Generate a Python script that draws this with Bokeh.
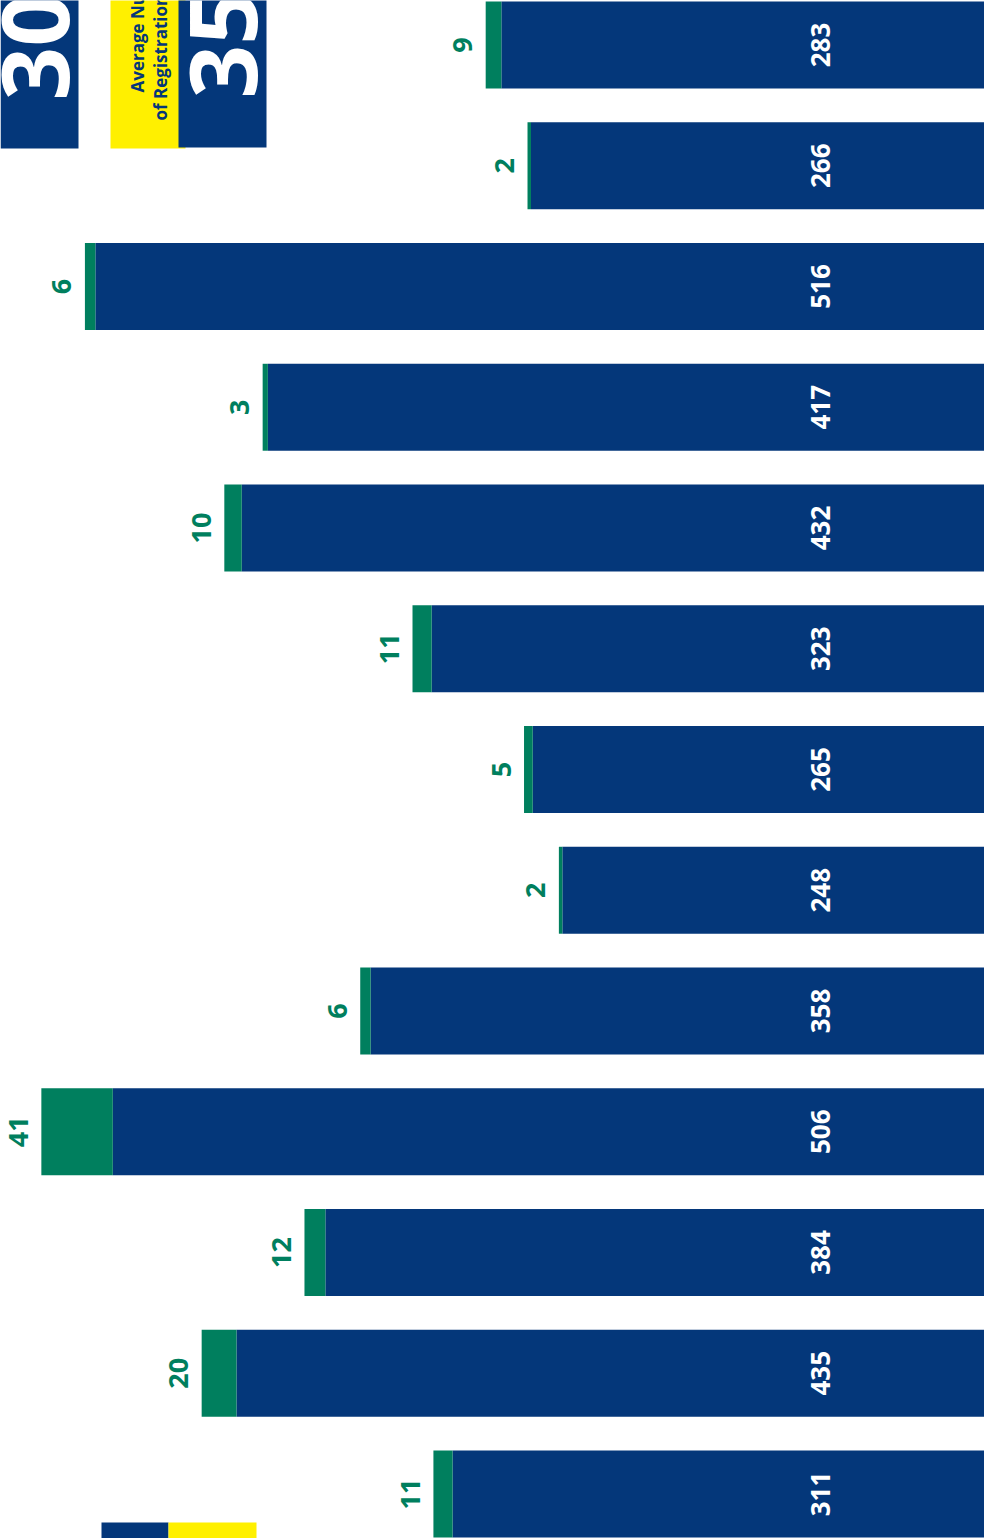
import math
from bokeh.plotting import figure
from bokeh.models import ColumnDataSource, Range1d
from bokeh.core.properties import value
from bokeh.embed import file_html
from bokeh.resources import INLINE

# ---- data (top to bottom) ----
rows = list(range(13))
registrations = [283, 266, 516, 417, 432, 323, 265, 248, 358, 506, 384, 435, 311]
extra = [9, 2, 6, 3, 10, 11, 5, 2, 6, 41, 12, 20, 11]
summary_numbers = ["30", "35"]
summary_title = ["Average Number", "of Registrations"]

NAVY = "#04377A"
GREEN = "#007F5E"
YELLOW = "#FFF000"
FONT = "Open Sans"

# geometry helpers (reference-pixel -> data), used for layout only
PX_PER_UNIT = 1.7425
ZERO_PX = 994.0
ROW0_PX = 44.5
ROW_STEP = 120.75


def dx(px):
    return (ZERO_PX - px) / PX_PER_UNIT


def dy(py):
    return (py - ROW0_PX) / ROW_STEP


W, H = 984, 1538
p = figure(width=W, height=H, output_backend="svg", toolbar_location=None,
           x_range=Range1d(dx(0), dx(W)), y_range=Range1d(dy(H), dy(0)),
           min_border=0)
p.axis.visible = False
p.grid.visible = False
p.outline_line_color = None
p.background_fill_color = "white"
p.border_fill_color = "white"

totals = [a + b for a, b in zip(registrations, extra)]
src = ColumnDataSource(dict(
    y=rows, reg=registrations, extra=extra, total=totals,
    reg_lbl=[str(v) for v in registrations],
    extra_lbl=[str(v) for v in extra],
    zero=[0] * len(rows),
    lbl_x=[100] * len(rows),
    extra_x=[t + 13.2 for t in totals],
))

p.hbar(y="y", left="zero", right="reg", height=0.72, source=src,
       fill_color=NAVY, line_color=None)
p.hbar(y="y", left="reg", right="total", height=0.72, source=src,
       fill_color=GREEN, line_color=None)

p.text(x="lbl_x", y="y", text="reg_lbl", source=src, angle=math.pi / 2,
       text_align="center", text_baseline="middle", text_color="white",
       text_font=value(FONT), text_font_style="bold", text_font_size="26px")
p.text(x="extra_x", y="y", text="extra_lbl", source=src, angle=math.pi / 2,
       text_align="center", text_baseline="middle", text_color=GREEN,
       text_font=value(FONT), text_font_style="bold", text_font_size="27px")

# ---- summary boxes (top-left, cropped) ----
p.quad(left=[dx(0), dx(110), dx(178)], right=[dx(78), dx(185), dx(266)],
       top=[dy(-20), dy(-20), dy(-20)], bottom=[dy(148), dy(148), dy(147)],
       fill_color=[NAVY, YELLOW, NAVY], line_color=None)
p.text(x=[dx(35), dx(223)], y=[dy(100), dy(98)], text=summary_numbers,
       angle=math.pi / 2, text_align="left", text_baseline="middle",
       text_color="white", text_font=value(FONT), text_font_style="bold",
       text_font_size="94px")
p.text(x=[dx(137), dx(160)], y=[dy(92), dy(120)], text=summary_title,
       angle=math.pi / 2, text_align="left", text_baseline="middle",
       text_color=NAVY, text_font=value(FONT), text_font_style="bold",
       text_font_size="17px")

# ---- bottom-left boxes (cropped) ----
p.quad(left=[dx(101), dx(168)], right=[dx(168), dx(256)],
       top=[dy(1522), dy(1522)], bottom=[dy(1560), dy(1560)],
       fill_color=[NAVY, YELLOW], line_color=None)

open("out.html", "w").write(file_html(p, INLINE))
